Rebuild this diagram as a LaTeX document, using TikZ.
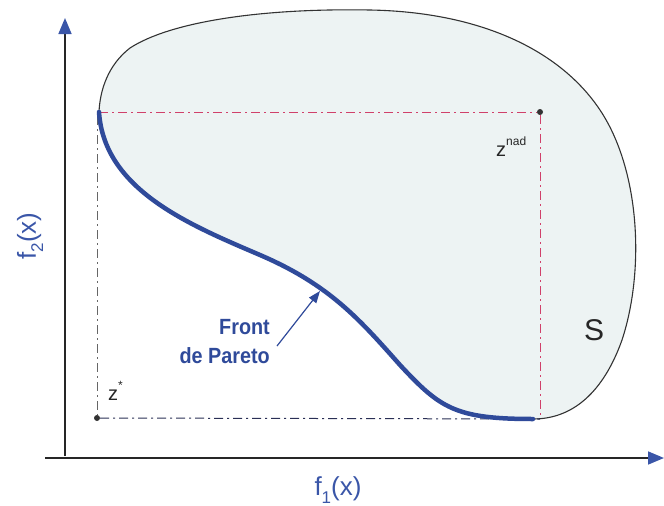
\documentclass[tikz,border=0pt]{standalone}
\usepackage{fontspec}
\setmainfont{Liberation Sans}
\usetikzlibrary{arrows.meta}
\definecolor{axisblue}{HTML}{3A56A8}
\definecolor{frontblue}{HTML}{2F4A9A}
\definecolor{fillgray}{HTML}{EDF3F3}
\definecolor{dashred}{HTML}{D0406A}
\definecolor{dashnavy}{HTML}{2A2F55}
\newcommand{\mysub}[1]{\raisebox{-0.28em}{\fontsize{17}{17}\selectfont #1}}
\newcommand{\mysup}[1]{\raisebox{0.55em}{\fontsize{12}{12}\selectfont #1}}
\begin{document}
\begin{tikzpicture}[x=1pt,y=-1pt,
  axis/.style={line width=1.6pt,draw=black!85,-{Triangle[length=16pt,width=13pt,fill=axisblue,color=axisblue]}},
  lbl/.style={text=axisblue,font=\fontsize{26}{28}\selectfont,inner sep=0pt},
  frontlbl/.style={text=frontblue,font=\bfseries\fontsize{22}{24}\selectfont,inner sep=0pt,anchor=base east,xscale=0.9},
  guidered/.style={draw=dashred,line width=1pt,dash pattern=on 9pt off 4pt on 2pt off 4pt},
  guidenavy/.style={draw=dashnavy,line width=1pt,dash pattern=on 9pt off 4pt on 2pt off 4pt},
  dotpt/.style={circle,fill=black!80,inner sep=0pt,minimum size=6pt}]
\useasboundingbox (0,0) rectangle (664,506);
% blob
\coordinate (fs) at (99,112);
\coordinate (fe) at (533,419);
\path[fill=fillgray,draw=black!80,line width=1.1pt]
  (fs) .. controls (104,190) and (190,225) .. (260,255)
  .. controls (330,285) and (360,320) .. (400,365)
  .. controls (440,408) and (455,419) .. (fe)
  .. controls (578,419) and (606,385) .. (622,340)
  .. controls (645,270) and (640,170) .. (600,110)
  .. controls (560,50) and (480,12) .. (370,10)
  .. controls (260,8) and (170,22) .. (130,48)
  .. controls (108,65) and (100,90) .. (fs);
% points
\node[dotpt] (znad) at (540,112) {};
\node[dotpt] (zstar) at (97,418) {};
\coordinate (br) at (540,419);
\coordinate (lv) at (97,116);
% guides
\draw[guidered] (fs) -- (znad);
\draw[guidered] (znad) -- (br);
\draw[guidenavy] (zstar) -- (br);
\draw[draw=black!60,line width=1pt,dash pattern=on 9pt off 4pt on 2pt off 4pt] (lv) -- (zstar);
% front
\draw[frontblue,line width=4.5pt,line cap=round]
  (fs) .. controls (104,190) and (190,225) .. (260,255)
  .. controls (330,285) and (360,320) .. (400,365)
  .. controls (440,408) and (455,419) .. (fe);
% axes
\coordinate (o1) at (65,456);
\coordinate (ytop) at (65,18);
\coordinate (o2) at (45,458);
\coordinate (xend) at (664,458);
\draw[axis] (o1) -- (ytop);
\draw[axis] (o2) -- (xend);
% labels
\node[lbl,rotate=90] (f2) at (30,236) {f\mysub{2}(x)};
\node[lbl] (f1) at (338,490) {f\mysub{1}(x)};
\node[text=black!85,font=\fontsize{30}{32}\selectfont,inner sep=0pt] (S) at (594,330) {S};
\node[text=black!85,font=\fontsize{20}{22}\selectfont,inner sep=0pt,anchor=base west] (znadl) at (496,156) {z\mysup{nad}};
\node[text=black!85,font=\fontsize{20}{22}\selectfont,inner sep=0pt,anchor=base west] (zstarl) at (108,400) {z\mysup{*}};
\node[frontlbl] (front1) at (270,334) {Front};
\node[frontlbl] (front2) at (270,363) {de Pareto};
\coordinate (ftip) at (320,291);
\draw[frontblue,line width=1.2pt,-{Triangle[length=12pt,width=9pt]}] (277,346) -- (ftip);
\end{tikzpicture}
\end{document}
